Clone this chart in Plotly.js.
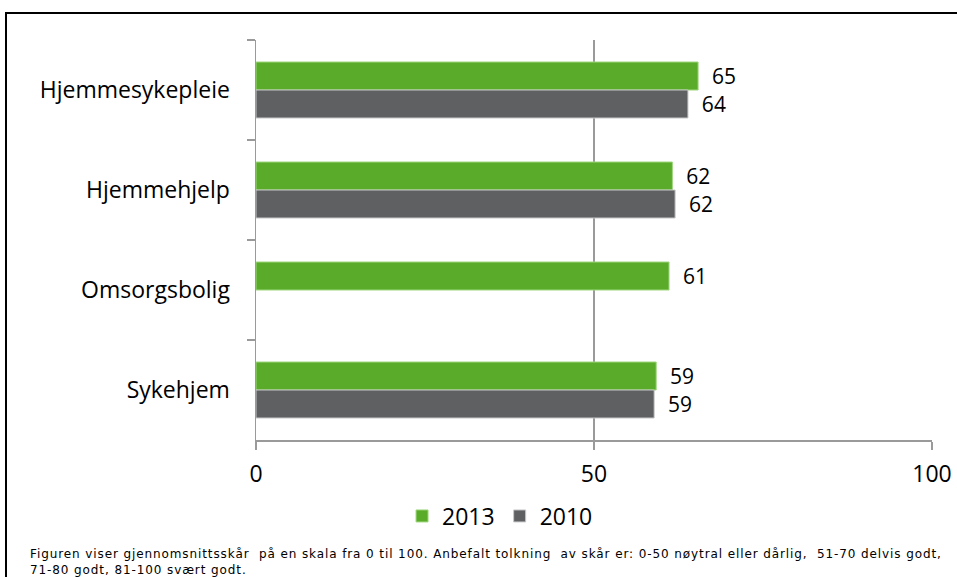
<!DOCTYPE html>
<html>
<head>
<meta charset="utf-8">
<script src="https://cdn.plot.ly/plotly-3.0.1.min.js"></script>
<style>
  html, body { margin: 0; padding: 0; background: #fff; overflow: hidden; }
  #chart { position: absolute; left: 0; top: 0; width: 957px; height: 577px; }
  #frame { position: absolute; left: 5px; top: 12px; width: 1000px; height: 700px;
           border: 2px solid #000; pointer-events: none; }
  #chart .annotation-text { letter-spacing: 0.9px; }
</style>
</head>
<body>
<div id="chart"></div>
<div id="frame"></div>
<script>
const categories = ["Hjemmesykepleie", "Hjemmehjelp", "Omsorgsbolig", "Sykehjem"];
const values2013 = [65.4, 61.6, 61.1, 59.2];
const values2010 = [63.9, 62.0, null, 58.9];
const seriesNames = ["2013", "2010"];
const xTicks = [0, 50, 100];
const footnote = "Figuren viser gjennomsnittsskår\u00a0 på en skala fra 0 til 100. Anbefalt tolkning\u00a0 av skår er: 0-50 nøytral eller dårlig,\u00a0 51-70 delvis godt,<br>71-80 godt, 81-100 svært godt.";

const font = "'Open Sans', Lato, sans-serif";
const fs = 23;
const fsValue = 21;

const traces = [
  {
    type: "bar", orientation: "h", name: seriesNames[0],
    y: categories, x: values2013,
    marker: { color: "#5aab2a", line: { color: "#9fd77f", width: 1 } },
    text: values2013.map(v => v == null ? "" : "\u00a0\u00a0" + Math.round(v)),
    textposition: "outside", cliponaxis: false, constraintext: "none",
    textfont: { family: font, size: fsValue, color: "#000" },
    hoverinfo: "skip"
  },
  {
    type: "bar", orientation: "h", name: seriesNames[1],
    y: categories, x: values2010,
    marker: { color: "#5f6062", line: { color: "#c8c8c8", width: 1 } },
    text: values2010.map(v => v == null ? "" : "\u00a0\u00a0" + Math.round(v)),
    textposition: "outside", cliponaxis: false, constraintext: "none",
    textfont: { family: font, size: fsValue, color: "#000" },
    hoverinfo: "skip"
  }
];

const layout = {
  width: 957, height: 577,
  margin: { l: 256, r: 25, t: 40, b: 137 },
  paper_bgcolor: "rgba(0,0,0,0)", plot_bgcolor: "rgba(0,0,0,0)",
  barmode: "group", bargap: 0.44, bargroupgap: 0,
  font: { family: font, size: fs, color: "#000" },
  showlegend: true,
  legend: {
    orientation: "h", x: 0.361, xanchor: "center", y: -0.19, yanchor: "middle",
    font: { family: font, size: fs, color: "#000" }, traceorder: "normal"
  },
  xaxis: {
    range: [0, 100], tickvals: xTicks, ticktext: xTicks.map(String),
    showgrid: true, gridcolor: "#9a9a9a", gridwidth: 1.5, zeroline: false,
    showline: true, linecolor: "#9a9a9a", linewidth: 1.5,
    ticks: "outside", ticklen: 8, tickcolor: "#9a9a9a", tickwidth: 1.5,
    tickfont: { family: font, size: fs, color: "#000" }, ticklabelstandoff: 5
  },
  yaxis: {
    type: "category", autorange: "reversed",
    showgrid: false, zeroline: false,
    showline: true, linecolor: "#9a9a9a", linewidth: 1.5,
    ticks: "outside", tickson: "boundaries", ticklen: 8, tickcolor: "#9a9a9a", tickwidth: 1.5,
    tickfont: { family: font, size: fs, color: "#000" }, ticklabelstandoff: 20
  },
  annotations: [{
    xref: "paper", yref: "paper", x: -0.337, y: -0.262, xanchor: "left", yanchor: "top",
    align: "left", showarrow: false, text: footnote,
    font: { family: "'DejaVu Sans', Verdana, sans-serif", size: 12, color: "#000" }
  }]
};

Plotly.newPlot("chart", traces, layout, { displayModeBar: false, staticPlot: true });
</script>
</body>
</html>
